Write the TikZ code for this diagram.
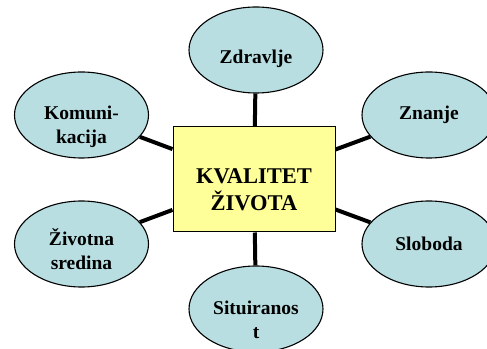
\documentclass[tikz,border=0pt]{standalone}
\usepackage{fontspec}
\setmainfont{Liberation Serif}
\usetikzlibrary{shapes.geometric}
\definecolor{ellfill}{RGB}{184,222,225}
\definecolor{boxfill}{RGB}{255,255,153}
\tikzset{
  bubble/.style={ellipse, draw=black, line width=1.1pt, fill=ellfill,
    minimum width=134pt, minimum height=86pt, inner sep=0pt},
  btext/.style={align=center, inner sep=0pt,
    font=\bfseries\fontsize{19.5}{24}\selectfont},
  centerbox/.style={rectangle, draw=black, line width=1pt, fill=boxfill,
    minimum width=162pt, minimum height=105pt, inner sep=0pt},
  ctext/.style={align=center, inner sep=0pt,
    font=\bfseries\fontsize{22.5}{27}\selectfont},
  link/.style={line width=4pt, black}
}
\begin{document}
\begin{tikzpicture}[x=1pt,y=1pt]
\useasboundingbox (0,0) rectangle (487,348);
\clip (0,0) rectangle (487,348);
\node[centerbox, label={[ctext, yshift=-10.5pt]center:KVALITET\\ŽIVOTA}] (c) at (254,168.5) {};
\node[bubble, label={[btext, yshift=-9pt]center:Zdravlje}] (zd) at (256,298) {};
\node[bubble, label={[btext]center:Znanje}] (zn) at (429,233) {};
\node[bubble, label={[btext, yshift=-12pt]center:Komuni-\\kacija}] (ko) at (81.5,233) {};
\node[bubble, label={[btext, yshift=-5pt]center:Životna\\sredina}] (zi) at (81.5,104) {};
\node[bubble, label={[btext]center:Sloboda}] (sl) at (429,104) {};
\node[bubble, label={[btext, yshift=-11pt]center:Situiranos\\t}] (si) at (256,39) {};
\draw[link] (zd) -- (c);
\draw[link] (zn) -- (c);
\draw[link] (ko) -- (c);
\draw[link] (zi) -- (c);
\draw[link] (sl) -- (c);
\draw[link] (si) -- (c);
\end{tikzpicture}
\end{document}
